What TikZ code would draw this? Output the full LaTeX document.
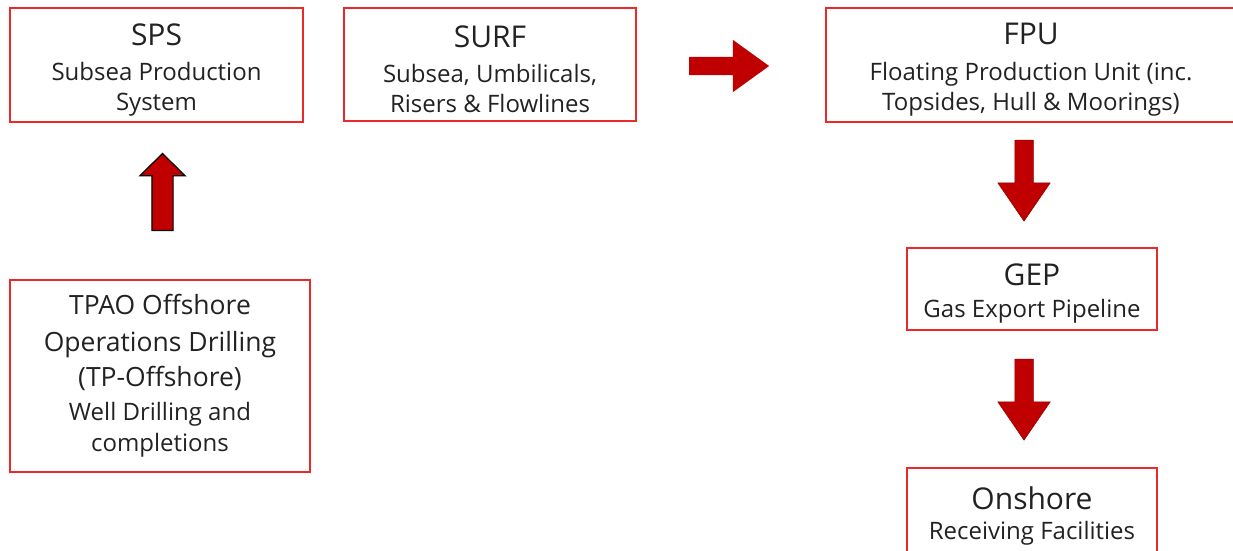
\documentclass[tikz,border=0pt]{standalone}
\usepackage{fontspec}
\setmainfont{Open Sans}
\usetikzlibrary{shapes.arrows,positioning}

\definecolor{boxred}{RGB}{236,40,40}
\definecolor{arrowred}{RGB}{192,0,0}
\definecolor{inkgray}{RGB}{34,34,34}

\newcommand{\unittitle}[1]{{\fontsize{30}{36}\selectfont\rule{0pt}{31pt}#1}}
\newcommand{\bigline}[1]{{\fontsize{26.5}{32}\selectfont #1}}

\tikzset{
  unit/.style={draw=boxred, line width=1.8pt, text=inkgray, align=center,
    inner sep=0pt, font=\fontsize{24}{30}\selectfont},
  blockarrow/.style={single arrow, fill=arrowred, inner sep=0pt,
    single arrow head indent=0pt, anchor=tail},
  flowright/.style={blockarrow, minimum height=80pt, inner ysep=9pt,
    single arrow head extend=17pt, single arrow tip angle=71.7},
  flowdown/.style={blockarrow, draw=arrowred!70!black, line width=0.5pt,
    minimum height=81pt, inner xsep=9pt, single arrow head extend=17pt,
    single arrow tip angle=68.8, shape border rotate=270},
  flowup/.style={blockarrow, draw=black, line width=1.2pt,
    minimum height=77pt, inner xsep=10pt, single arrow head extend=12pt,
    single arrow tip angle=91, shape border rotate=90},
}

\begin{document}
\begin{tikzpicture}[x=1pt, y=-1pt]
  \useasboundingbox (0,0) rectangle (1233,550);

  % top row
  \node[unit, minimum width=293pt, minimum height=114pt] (sps) at (156.5,65)
    {\unittitle{SPS}\\[5pt] Subsea Production\\ System};
  \node[unit, minimum width=292pt, minimum height=113pt] (surf) at (490,64.5)
    {\unittitle{SURF}\\[5pt] Subsea, Umbilicals,\\ Risers \& Flowlines};
  \node[unit, minimum width=410pt, minimum height=114pt] (fpu) at (1031,65)
    {\unittitle{FPU}\\[6pt] Floating Production Unit (inc.\\ Topsides, Hull \& Moorings)};

  % drilling
  \node[unit, minimum width=300pt, minimum height=192pt] (tpao) at (160,376)
    {\bigline{TPAO Offshore}\\[7pt] \bigline{Operations Drilling}\\[5pt]
     \bigline{(TP-Offshore)}\\[4pt] Well Drilling and\\[1pt] completions};

  % export chain
  \node[unit, minimum width=250pt, minimum height=82pt] (gep) at (1032,289)
    {\unittitle{GEP}\\[2pt] Gas Export Pipeline};
  \node[unit, minimum width=250pt, minimum height=88pt] (onshore) at (1032,512)
    {\unittitle{Onshore}\\ Receiving Facilities};

  % arrows
  \node[flowup, above=48pt of tpao, anchor=tail, xshift=2.5pt] (drill2sps) {};
  \node[flowright, right=52pt of surf, anchor=tail, yshift=-1.5pt] (surf2fpu) {};
  \node[flowdown, below=17pt of fpu, anchor=tail, xshift=-7pt] (fpu2gep) {};
  \node[flowdown, below=28pt of gep, anchor=tail, xshift=-8pt] (gep2onshore) {};
\end{tikzpicture}
\end{document}
